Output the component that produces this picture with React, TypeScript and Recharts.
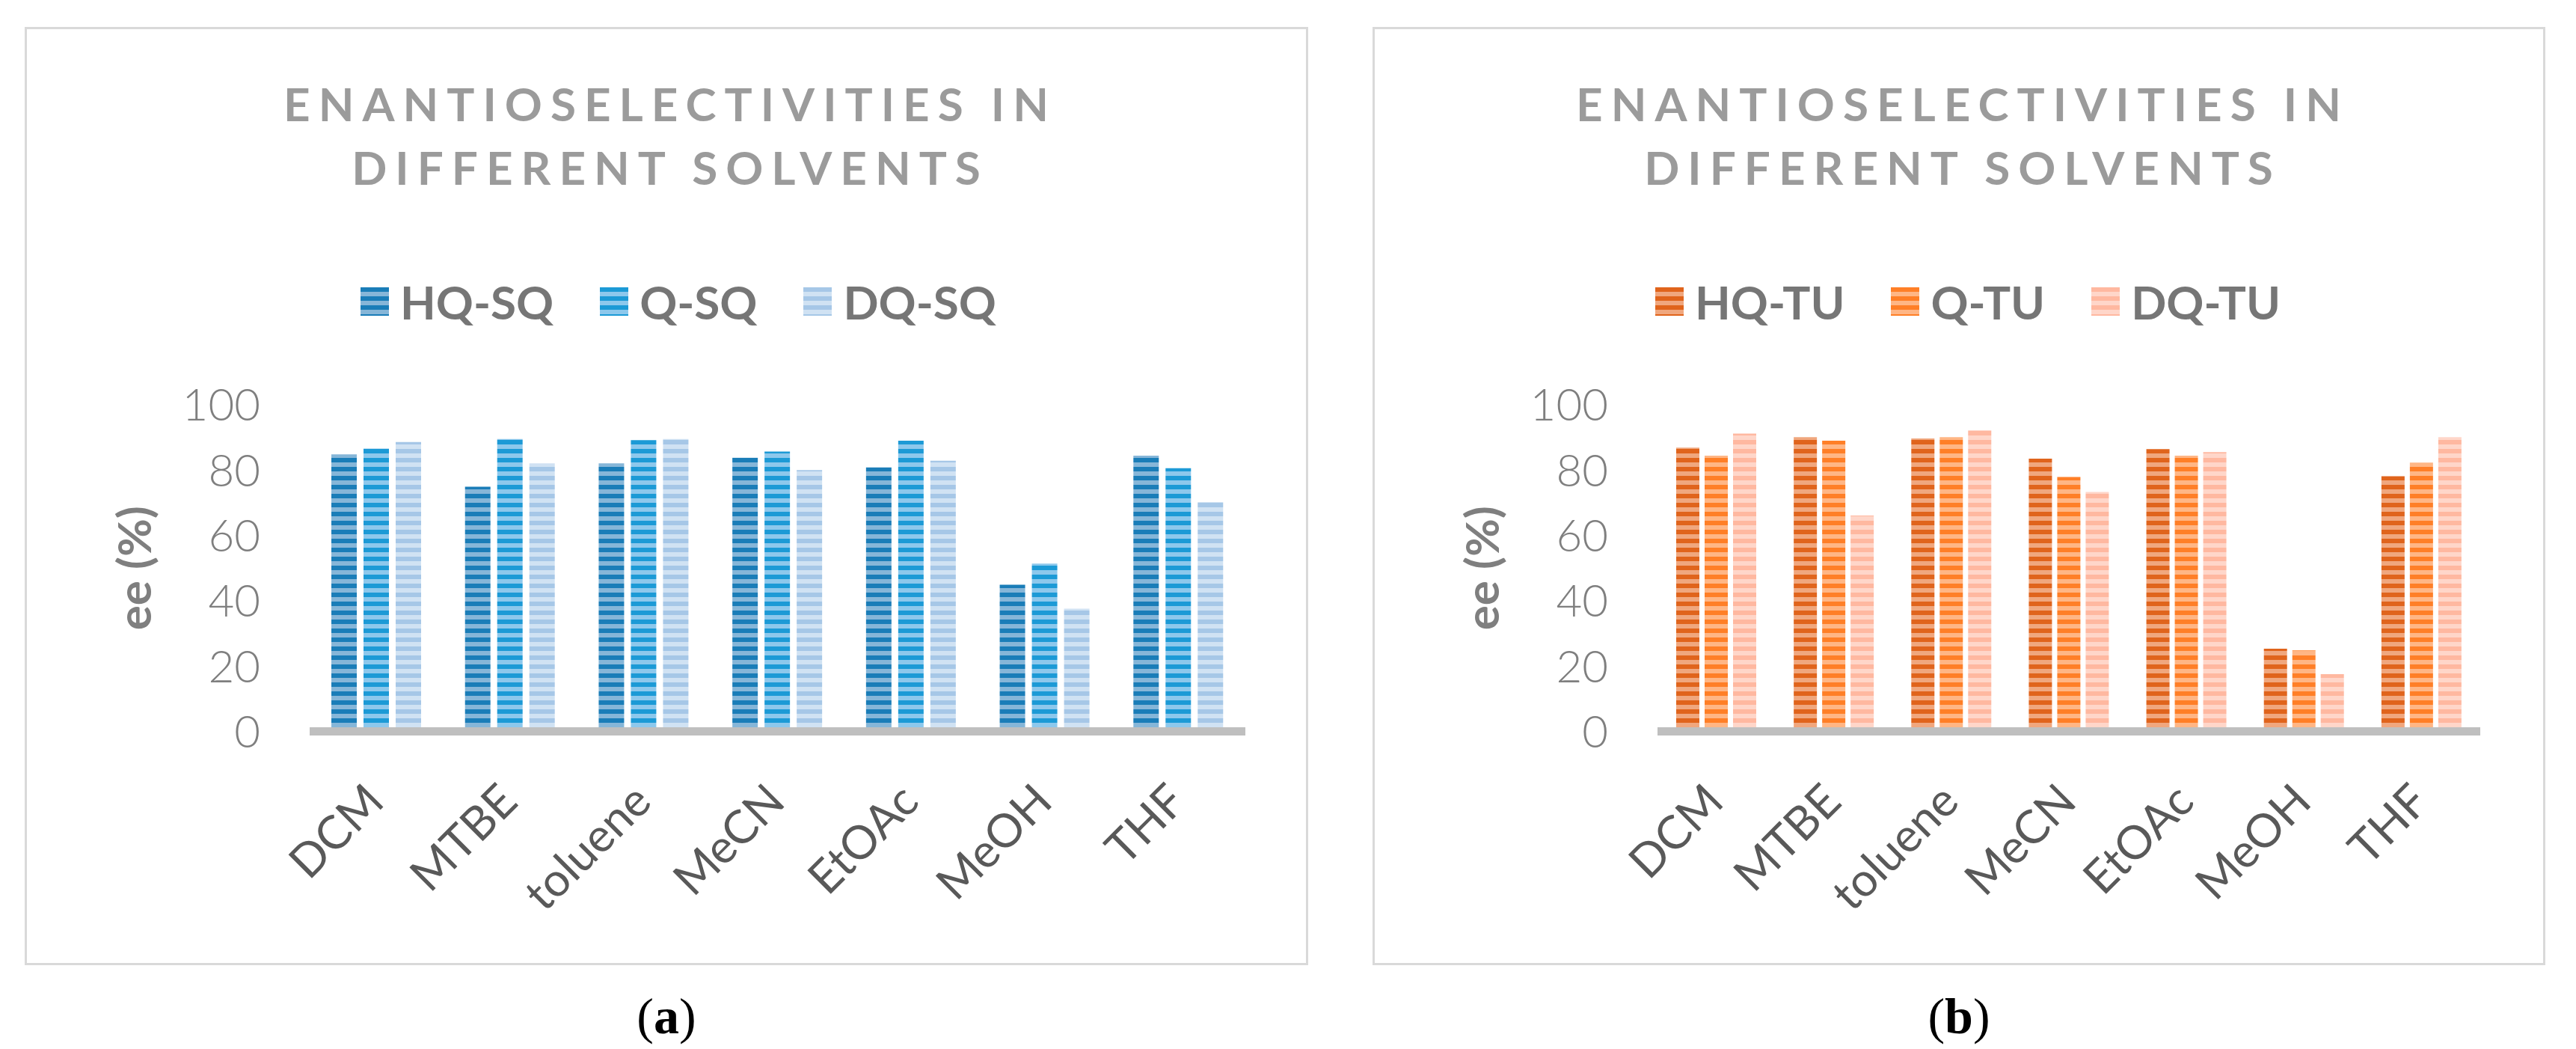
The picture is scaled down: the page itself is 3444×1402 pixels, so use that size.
import React from "react";
import { Bar, BarChart, Label, Legend, XAxis, YAxis } from "recharts";

// values (ee %, per solvent)
const solvents = ["DCM", "MTBE", "toluene", "MeCN", "EtOAc", "MeOH", "THF"];

const hqSq = [84.8, 74.9, 82.1, 83.8, 80.8, 44.9, 84.4];
const qSq = [86.6, 89.5, 89.2, 85.7, 89.0, 51.4, 80.6];
const dqSq = [88.6, 82.1, 89.5, 80.0, 82.9, 37.6, 70.2];

const hqTu = [86.9, 90.1, 89.7, 83.5, 86.4, 25.3, 78.1];
const qTu = [84.4, 89.0, 90.1, 77.9, 84.4, 24.8, 82.3];
const dqTu = [91.2, 66.1, 92.2, 73.3, 85.5, 17.5, 90.1];

const yTicks = [0, 20, 40, 60, 80, 100];

const FONT = 'Lato, "Liberation Sans", Arial, sans-serif';

type Series = { key: string; name: string; dark: string; light: string };

const sqSeries: Series[] = [
  { key: "hqSq", name: "HQ-SQ", dark: "#1a7db8", light: "#86b6d8" },
  { key: "qSq", name: "Q-SQ", dark: "#1c9ad6", light: "#8dc8ec" },
  { key: "dqSq", name: "DQ-SQ", dark: "#a6c7e7", light: "#d0e2f3" },
];

const tuSeries: Series[] = [
  { key: "hqTu", name: "HQ-TU", dark: "#e0641c", light: "#f0a77e" },
  { key: "qTu", name: "Q-TU", dark: "#ff7f27", light: "#ffb685" },
  { key: "dqTu", name: "DQ-TU", dark: "#ffb8a0", light: "#ffd6c9" },
];

const sqData = solvents.map((solvent, i) => ({ solvent, hqSq: hqSq[i], qSq: qSq[i], dqSq: dqSq[i] }));
const tuData = solvents.map((solvent, i) => ({ solvent, hqTu: hqTu[i], qTu: qTu[i], dqTu: dqTu[i] }));

function SolventTick({ x, y, payload }: any) {
  const tx = x + 13;
  const ty = y + 95;
  return (
    <text x={tx} y={ty} transform={`rotate(-45, ${tx}, ${ty})`} textAnchor="end" fill="#595959" fontSize={62} fontFamily={FONT}>
      {payload.value}
    </text>
  );
}

function LegendRow({ series, shift }: { series: Series[]; shift: number }) {
  return (
    <div style={{ display: "flex", justifyContent: "center", gap: 62, paddingLeft: shift * 2, fontFamily: FONT }}>
      {series.map((s) => (
        <div key={s.key} style={{ display: "flex", alignItems: "center", gap: 15 }}>
          <svg width={38} height={38}>
            <rect width={38} height={38} fill={`url(#stripe-${s.key})`} />
          </svg>
          <span style={{ fontSize: 62, fontWeight: 700, color: "#767676", lineHeight: "62px" }}>{s.name}</span>
        </div>
      ))}
    </div>
  );
}

interface PanelProps {
  left: number;
  width: number;
  data: Array<Record<string, number | string>>;
  series: Series[];
  barSize: number;
  barGap: number;
  rightMargin: number;
  caption: string;
  legendShift: number;
}

function Panel({ left, width, data, series, barSize, barGap, rightMargin, caption, legendShift }: PanelProps) {
  const top = 36;
  const height = 1254;
  return (
    <>
      <div
        style={{
          position: "absolute",
          left,
          top,
          width,
          height,
          boxSizing: "border-box",
          border: "3px solid #d9d9d9",
        }}
      />
      <div
        style={{
          position: "absolute",
          left: left + 5,
          top: 96,
          width,
          textAlign: "center",
          fontFamily: FONT,
          fontSize: 62,
          fontWeight: 700,
          lineHeight: "85px",
          letterSpacing: 11,
          color: "#9b9b9b",
        }}
      >
        ENANTIOSELECTIVITIES IN
        <br />
        DIFFERENT SOLVENTS
      </div>
      <div style={{ position: "absolute", left, top }}>
        <BarChart
          width={width}
          height={height}
          data={data}
          barSize={barSize}
          barGap={barGap}
          margin={{ top: 505, right: rightMargin, bottom: 192.5, left: 81 }}
        >
          <defs>
            {series.map((s) => (
              <pattern key={s.key} id={`stripe-${s.key}`} width={12} height={12} patternUnits="userSpaceOnUse">
                <rect width={12} height={12} fill={s.light} />
                <rect width={12} height={6} fill={s.dark} />
              </pattern>
            ))}
          </defs>
          <Legend
            verticalAlign="middle"
            layout="horizontal"
            wrapperStyle={{ top: 336, left: 0, width }}
            content={() => <LegendRow series={series} shift={legendShift} />}
          />
          <YAxis
            type="number"
            domain={[0, 100]}
            ticks={yTicks}
            width={300}
            axisLine={false}
            tickLine={false}
            tickSize={0}
            tickMargin={66}
            tick={{ fill: "#7f7f7f", fontSize: 60, fontWeight: 300, fontFamily: FONT }}
          >
            <Label
              content={({ viewBox }: any) => {
                const cx = viewBox.x + viewBox.width - 236;
                const cy = viewBox.y + viewBox.height / 2;
                return (
                  <text
                    x={cx}
                    y={cy}
                    transform={`rotate(-90, ${cx}, ${cy})`}
                    textAnchor="middle"
                    dominantBaseline="central"
                    fill="#7f7f7f"
                    fontSize={62}
                    fontWeight={700}
                    fontFamily={FONT}
                  >
                    ee (%)
                  </text>
                );
              }}
            />
          </YAxis>
          {series.map((s) => (
            <Bar key={s.key} dataKey={s.key} name={s.name} fill={`url(#stripe-${s.key})`} isAnimationActive={false} />
          ))}
          <XAxis
            dataKey="solvent"
            interval={0}
            height={120}
            tickLine={false}
            tickSize={0}
            axisLine={{ stroke: "#bfbfbf", strokeWidth: 11 }}
            tick={<SolventTick />}
          />
        </BarChart>
      </div>
      <div
        style={{
          position: "absolute",
          left,
          top: 1318,
          width,
          textAlign: "center",
          fontFamily: '"Liberation Serif", "Times New Roman", serif',
          fontSize: 68,
          lineHeight: "80px",
          color: "#000",
        }}
      >
        (<b>{caption}</b>)
      </div>
    </>
  );
}

export default function App() {
  return (
    <div style={{ position: "absolute", left: 0, top: 0, width: 3444, height: 1402, background: "#fff", overflow: "hidden" }}>
      <Panel
        left={33}
        width={1716}
        data={sqData}
        series={sqSeries}
        barSize={34}
        barGap={9}
        rightMargin={84}
        caption="a"
        legendShift={16}
      />
      <Panel
        left={1835}
        width={1568}
        data={tuData}
        series={tuSeries}
        barSize={31}
        barGap={7}
        rightMargin={87}
        caption="b"
        legendShift={12}
      />
    </div>
  );
}
